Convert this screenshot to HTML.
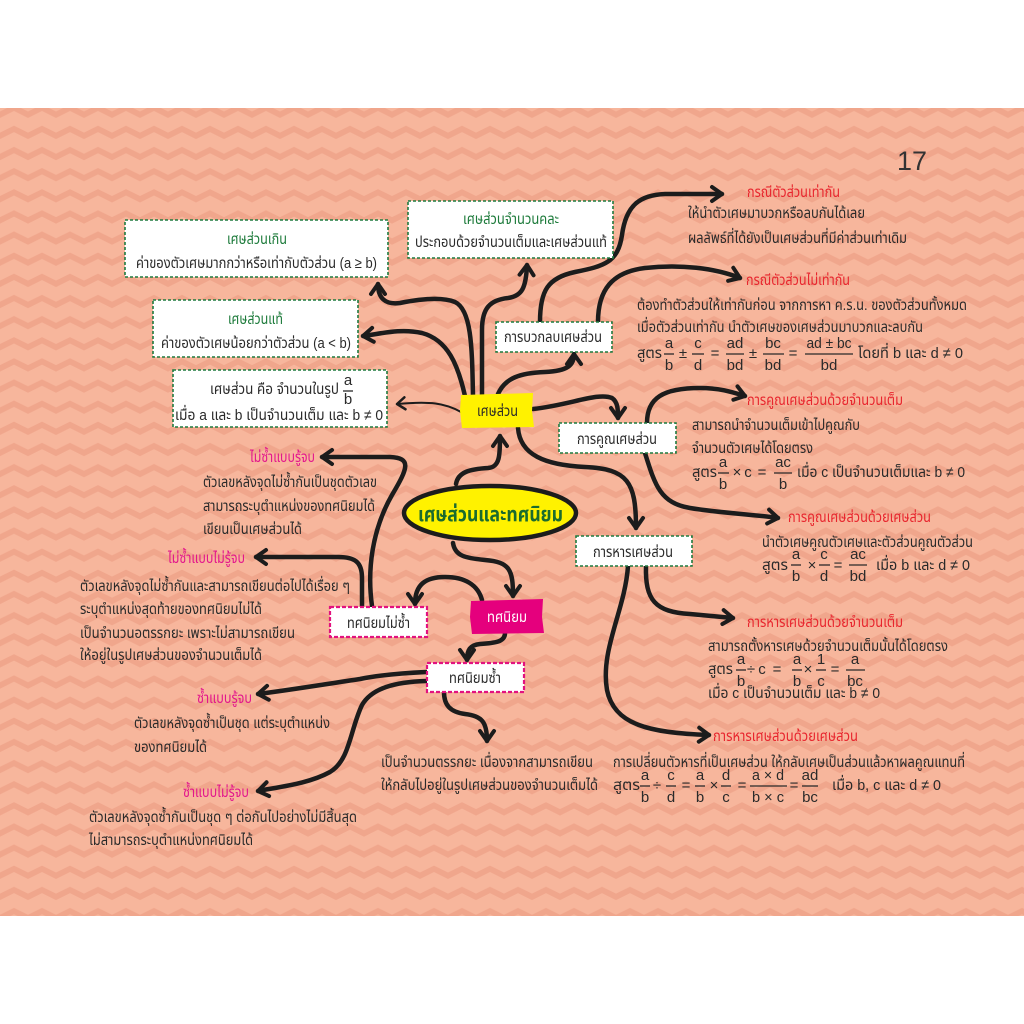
<!DOCTYPE html>
<html><head><meta charset="utf-8"><style>
html,body{margin:0;padding:0;background:#fff;}
svg{display:block;}
text{font-family:"Liberation Sans","Noto Sans Thai","Loma","Garuda","Tlwg Typo","Noto Sans CJK SC",sans-serif;font-size:15px;fill:#2a2a2a;}
.g{fill:#1d7b3b;}
.r{fill:#e8262e;}
.m{fill:#e3168c;}
.c{text-anchor:middle;}
.w{fill:#ffffff;}
.ln{fill:none;stroke:#1c1c1c;stroke-width:4.5;stroke-linecap:round;stroke-linejoin:round;}
.bar{stroke:#2a2a2a;stroke-width:1.3;}
.bx{fill:#fff;stroke:#1f7a3f;stroke-width:1.6;stroke-dasharray:3 2;}
.pk{fill:#fff;stroke:#e2127f;stroke-width:2.2;stroke-dasharray:4 2;}
</style></head><body>
<svg width="1024" height="1024" viewBox="0 0 1024 1024" xmlns="http://www.w3.org/2000/svg">
<defs>
<pattern id="zz" x="0" y="100.5" width="28" height="21.14" patternUnits="userSpaceOnUse">
<polygon points="0,11 14,4 28,11 28,17.5 14,10.5 0,17.5" fill="#f0a68c"/>
</pattern>
<marker id="ah" markerWidth="24" markerHeight="24" refX="0" refY="0" orient="auto" markerUnits="userSpaceOnUse" viewBox="-14 -12 18 24" overflow="visible">
<path d="M-10,-7 L0,0 L-10,7" fill="none" stroke="#1c1c1c" stroke-width="4" stroke-linecap="round" stroke-linejoin="round"/>
</marker>
<marker id="ahs" markerWidth="20" markerHeight="20" refX="0" refY="0" orient="auto" markerUnits="userSpaceOnUse" viewBox="-12 -10 14 20" overflow="visible">
<path d="M-8,-6 L0,0 L-8,6" fill="none" stroke="#1c1c1c" stroke-width="2.5" stroke-linecap="round" stroke-linejoin="round"/>
</marker>
</defs>

<rect x="0" y="0" width="1024" height="1024" fill="#ffffff"/>
<rect x="0" y="108" width="1024" height="808" fill="#f7b69c"/>
<rect x="0" y="108" width="1024" height="808" fill="url(#zz)"/>

<!-- page number -->
<text x="897" y="170" textLength="30" lengthAdjust="spacingAndGlyphs" style="font-size:27px;fill:#333;">17</text>

<!-- connectors -->
<path class="ln" marker-end="url(#ah)" d="M456,484 C458,472 470,469 488,468 C500,467 500,455 500,436"/>
<path class="ln" marker-end="url(#ah)" d="M453,543 C455,556 465,558 485,560 C510,562 513,570 513,596"/>
<path class="ln" marker-end="url(#ah)" d="M482,600 C478,585 465,577 445,577 C425,577 415,585 415,604"/>
<path class="ln" marker-end="url(#ah)" d="M505,633 C505,642 495,643 480,644 C470,645 467,650 467,660"/>
<path class="ln" marker-end="url(#ah)" d="M372,606 C367,570 372,530 392,495 C408,468 412,458 390,457 L322,457"/>
<path class="ln" marker-end="url(#ah)" d="M362,606 L362,578 C362,562 355,557 338,557 L256,557"/>
<path class="ln" marker-end="url(#ah)" d="M426,672 C405,673 380,675 360,679 C320,685 290,690 258,694"/>
<path class="ln" marker-end="url(#ah)" d="M426,681 C395,682 372,688 362,705 C350,730 350,760 330,772 C310,783 285,786 258,791"/>
<path class="ln" marker-end="url(#ah)" d="M444,692 C444,705 450,712 465,714 C482,716 487,722 487,741"/>
<path class="ln" style="stroke-width:2" marker-end="url(#ahs)" d="M461,412 C445,403 430,401 397,404"/>
<path class="ln" marker-end="url(#ah)" d="M465,396 C458,365 448,340 422,333 C400,328 380,334 363,336"/>
<path class="ln" marker-end="url(#ah)" d="M473,396 C472,350 472,310 455,302 C440,296 415,300 400,303 C385,305 378,298 378,284"/>
<path class="ln" marker-end="url(#ah)" d="M482,396 L482,330 C482,308 490,300 508,298 C522,296 526,288 527,265"/>
<path class="ln" marker-end="url(#ah)" d="M540,322 C540,290 548,278 575,272 C605,266 618,262 622,235 C626,205 640,195 665,194 L722,194"/>
<path class="ln" marker-end="url(#ah)" d="M598,322 C598,290 612,272 645,268 C680,264 715,268 740,278"/>
<path class="ln" marker-end="url(#ah)" d="M498,394 C505,378 520,373 545,372 C568,371 574,365 574,354"/>
<path class="ln" marker-end="url(#ah)" d="M533,409 C570,405 598,392 612,398 C618,402 618,410 618,418"/>
<path class="ln" marker-end="url(#ah)" d="M518,428 C520,455 545,465 585,467 C628,469 636,482 636,528"/>
<path class="ln" marker-end="url(#ah)" d="M647,423 C647,398 663,388 700,388 C720,388 732,392 745,396"/>
<path class="ln" marker-end="url(#ah)" d="M645,453 C655,485 660,503 690,508 C720,513 750,514 778,518"/>
<path class="ln" marker-end="url(#ah)" d="M646,566 C645,600 655,612 690,614 L733,618"/>
<path class="ln" marker-end="url(#ah)" d="M628,566 C625,610 600,650 607,690 C614,725 650,733 709,735"/>

<!-- boxes -->
<rect class="bx" x="125" y="220" width="263" height="57"/>
<rect class="bx" x="153" y="300" width="205" height="57"/>
<rect class="bx" x="173" y="370" width="214" height="57"/>
<rect class="bx" x="408" y="201" width="205" height="57"/>
<rect class="bx" x="496" y="322" width="116" height="30"/>
<rect class="bx" x="559" y="423" width="117" height="30"/>
<rect class="bx" x="576" y="536" width="116" height="30"/>
<rect class="pk" x="330" y="607" width="97" height="30"/>
<rect class="pk" x="427" y="663" width="97" height="29"/>

<!-- tags -->
<path d="M461,395 L533,393 L532,411 L534,427 L462,428 L460,411 Z" fill="#fff200"/>
<path d="M471,601 L543,599 L542,617 L544,633 L472,634 L470,617 Z" fill="#e5007d"/>

<!-- central ellipse -->
<ellipse cx="490" cy="513" rx="86" ry="27" fill="#fff200" stroke="#1c1c1c" stroke-width="4.5"/>
<text x="418" y="521" textLength="145" lengthAdjust="spacingAndGlyphs" style="font-size:20px;font-weight:bold;fill:#1b6b2e;">เศษส่วนและทศนิยม</text>

<!-- box texts -->
<text class="g" x="227" y="244" textLength="60" lengthAdjust="spacingAndGlyphs">เศษส่วนเกิน</text>
<text x="136" y="268" textLength="241" lengthAdjust="spacingAndGlyphs">ค่าของตัวเศษมากกว่าหรือเท่ากับตัวส่วน (a ≥ b)</text>
<text class="g" x="228" y="324" textLength="55" lengthAdjust="spacingAndGlyphs">เศษส่วนแท้</text>
<text x="161" y="348" textLength="190" lengthAdjust="spacingAndGlyphs">ค่าของตัวเศษน้อยกว่าตัวส่วน (a &lt; b)</text>
<text x="210" y="394" textLength="129" lengthAdjust="spacingAndGlyphs">เศษส่วน คือ จำนวนในรูป</text>
<text class="c" x="348" y="385">a</text><line class="bar" x1="343" y1="391" x2="353" y2="391"/><text class="c" x="348" y="404">b</text>
<text x="175" y="420" textLength="208" lengthAdjust="spacingAndGlyphs">เมื่อ a และ b เป็นจำนวนเต็ม และ b ≠ 0</text>
<text class="g" x="463" y="224" textLength="96" lengthAdjust="spacingAndGlyphs">เศษส่วนจำนวนคละ</text>
<text x="415" y="247" textLength="192" lengthAdjust="spacingAndGlyphs">ประกอบด้วยจำนวนเต็มและเศษส่วนแท้</text>
<text x="504" y="342" textLength="98" lengthAdjust="spacingAndGlyphs">การบวกลบเศษส่วน</text>
<text x="577" y="444" textLength="80" lengthAdjust="spacingAndGlyphs">การคูณเศษส่วน</text>
<text x="593" y="557" textLength="80" lengthAdjust="spacingAndGlyphs">การหารเศษส่วน</text>
<text x="347" y="628" textLength="63" lengthAdjust="spacingAndGlyphs">ทศนิยมไม่ซ้ำ</text>
<text x="449" y="683" textLength="52" lengthAdjust="spacingAndGlyphs">ทศนิยมซ้ำ</text>
<text x="477" y="416" textLength="41" lengthAdjust="spacingAndGlyphs">เศษส่วน</text>
<text class="w" x="487" y="622" textLength="40" lengthAdjust="spacingAndGlyphs">ทศนิยม</text>

<!-- addition -->
<text class="r" x="747" y="197" textLength="93" lengthAdjust="spacingAndGlyphs">กรณีตัวส่วนเท่ากัน</text>
<text x="688" y="218" textLength="177" lengthAdjust="spacingAndGlyphs">ให้นำตัวเศษมาบวกหรือลบกันได้เลย</text>
<text x="688" y="243" textLength="219" lengthAdjust="spacingAndGlyphs">ผลลัพธ์ที่ได้ยังเป็นเศษส่วนที่มีค่าส่วนเท่าเดิม</text>
<text class="r" x="746" y="285" textLength="104" lengthAdjust="spacingAndGlyphs">กรณีตัวส่วนไม่เท่ากัน</text>
<text x="637" y="310" textLength="330" lengthAdjust="spacingAndGlyphs">ต้องทำตัวส่วนให้เท่ากันก่อน จากการหา ค.ร.น. ของตัวส่วนทั้งหมด</text>
<text x="637" y="332" textLength="286" lengthAdjust="spacingAndGlyphs">เมื่อตัวส่วนเท่ากัน นำตัวเศษของเศษส่วนมาบวกและลบกัน</text>
<text x="637" y="358" textLength="25" lengthAdjust="spacingAndGlyphs">สูตร</text>
<text class="c" x="669" y="348">a</text><line class="bar" x1="664" y1="354" x2="674" y2="354"/><text class="c" x="669" y="370">b</text>
<text class="c" x="683" y="358">±</text>
<text class="c" x="698" y="348">c</text><line class="bar" x1="692" y1="354" x2="704" y2="354"/><text class="c" x="698" y="370">d</text>
<text class="c" x="715" y="358">=</text>
<text class="c" x="735" y="348">ad</text><line class="bar" x1="726" y1="354" x2="744" y2="354"/><text class="c" x="735" y="370">bd</text>
<text class="c" x="753" y="358">±</text>
<text class="c" x="773" y="348">bc</text><line class="bar" x1="763" y1="354" x2="784" y2="354"/><text class="c" x="773" y="370">bd</text>
<text class="c" x="793" y="358">=</text>
<text class="c" x="829" y="348" textLength="45" lengthAdjust="spacingAndGlyphs">ad ± bc</text><line class="bar" x1="805" y1="354" x2="853" y2="354"/><text class="c" x="829" y="370">bd</text>
<text x="858" y="358" textLength="105" lengthAdjust="spacingAndGlyphs">โดยที่ b และ d ≠ 0</text>

<!-- multiplication -->
<text class="r" x="747" y="405" textLength="156" lengthAdjust="spacingAndGlyphs">การคูณเศษส่วนด้วยจำนวนเต็ม</text>
<text x="692" y="430" textLength="168" lengthAdjust="spacingAndGlyphs">สามารถนำจำนวนเต็มเข้าไปคูณกับ</text>
<text x="692" y="453" textLength="121" lengthAdjust="spacingAndGlyphs">จำนวนตัวเศษได้โดยตรง</text>
<text x="692" y="477" textLength="25" lengthAdjust="spacingAndGlyphs">สูตร</text>
<text class="c" x="723" y="467">a</text><line class="bar" x1="718" y1="473" x2="729" y2="473"/><text class="c" x="723" y="489">b</text>
<text class="c" x="737" y="477">×</text>
<text class="c" x="748" y="477">c</text>
<text class="c" x="762" y="477">=</text>
<text class="c" x="783" y="467">ac</text><line class="bar" x1="774" y1="473" x2="792" y2="473"/><text class="c" x="783" y="489">b</text>
<text x="797" y="477" textLength="168" lengthAdjust="spacingAndGlyphs">เมื่อ c เป็นจำนวนเต็มและ b ≠ 0</text>
<text class="r" x="788" y="522" textLength="143" lengthAdjust="spacingAndGlyphs">การคูณเศษส่วนด้วยเศษส่วน</text>
<text x="762" y="547" textLength="211" lengthAdjust="spacingAndGlyphs">นำตัวเศษคูณตัวเศษและตัวส่วนคูณตัวส่วน</text>
<text x="762" y="570" textLength="26" lengthAdjust="spacingAndGlyphs">สูตร</text>
<text class="c" x="796" y="559">a</text><line class="bar" x1="791" y1="565" x2="801" y2="565"/><text class="c" x="796" y="581">b</text>
<text class="c" x="812" y="570">×</text>
<text class="c" x="824" y="559">c</text><line class="bar" x1="819" y1="565" x2="830" y2="565"/><text class="c" x="824" y="581">d</text>
<text class="c" x="838" y="570">=</text>
<text class="c" x="858" y="559">ac</text><line class="bar" x1="849" y1="565" x2="867" y2="565"/><text class="c" x="858" y="581">bd</text>
<text x="876" y="570" textLength="94" lengthAdjust="spacingAndGlyphs">เมื่อ b และ d ≠ 0</text>

<!-- division -->
<text class="r" x="747" y="627" textLength="156" lengthAdjust="spacingAndGlyphs">การหารเศษส่วนด้วยจำนวนเต็ม</text>
<text x="708" y="651" textLength="240" lengthAdjust="spacingAndGlyphs">สามารถตั้งหารเศษด้วยจำนวนเต็มนั้นได้โดยตรง</text>
<text x="708" y="674" textLength="25" lengthAdjust="spacingAndGlyphs">สูตร</text>
<text class="c" x="741" y="664">a</text><line class="bar" x1="736" y1="670" x2="746" y2="670"/><text class="c" x="741" y="686">b</text>
<text class="c" x="751" y="674">÷</text>
<text class="c" x="762" y="674">c</text>
<text class="c" x="777" y="674">=</text>
<text class="c" x="797" y="664">a</text><line class="bar" x1="792" y1="670" x2="802" y2="670"/><text class="c" x="797" y="686">b</text>
<text class="c" x="808" y="674">×</text>
<text class="c" x="821" y="664">1</text><line class="bar" x1="816" y1="670" x2="826" y2="670"/><text class="c" x="821" y="686">c</text>
<text class="c" x="835" y="674">=</text>
<text class="c" x="855" y="664">a</text><line class="bar" x1="846" y1="670" x2="865" y2="670"/><text class="c" x="855" y="686">bc</text>
<text x="708" y="698" textLength="172" lengthAdjust="spacingAndGlyphs">เมื่อ c เป็นจำนวนเต็ม และ b ≠ 0</text>
<text class="r" x="713" y="741" textLength="145" lengthAdjust="spacingAndGlyphs">การหารเศษส่วนด้วยเศษส่วน</text>
<text x="613" y="767" textLength="352" lengthAdjust="spacingAndGlyphs">การเปลี่ยนตัวหารที่เป็นเศษส่วน ให้กลับเศษเป็นส่วนแล้วหาผลคูณแทนที่</text>
<text x="613" y="790" textLength="27" lengthAdjust="spacingAndGlyphs">สูตร</text>
<text class="c" x="645" y="780">a</text><line class="bar" x1="640" y1="786" x2="650" y2="786"/><text class="c" x="645" y="802">b</text>
<text class="c" x="657" y="790">÷</text>
<text class="c" x="671" y="780">c</text><line class="bar" x1="666" y1="786" x2="676" y2="786"/><text class="c" x="671" y="802">d</text>
<text class="c" x="686" y="790">=</text>
<text class="c" x="700" y="780">a</text><line class="bar" x1="695" y1="786" x2="705" y2="786"/><text class="c" x="700" y="802">b</text>
<text class="c" x="714" y="790">×</text>
<text class="c" x="726" y="780">d</text><line class="bar" x1="721" y1="786" x2="731" y2="786"/><text class="c" x="726" y="802">c</text>
<text class="c" x="742" y="790">=</text>
<text class="c" x="768" y="780" textLength="32" lengthAdjust="spacingAndGlyphs">a × d</text><line class="bar" x1="750" y1="786" x2="787" y2="786"/><text class="c" x="768" y="802" textLength="32" lengthAdjust="spacingAndGlyphs">b × c</text>
<text class="c" x="794" y="790">=</text>
<text class="c" x="810" y="780">ad</text><line class="bar" x1="802" y1="786" x2="818" y2="786"/><text class="c" x="810" y="802">bc</text>
<text x="832" y="790" textLength="109" lengthAdjust="spacingAndGlyphs">เมื่อ b, c และ d ≠ 0</text>

<!-- decimals -->
<text class="m" x="250" y="462" textLength="65" lengthAdjust="spacingAndGlyphs">ไม่ซ้ำแบบรู้จบ</text>
<text x="203" y="487" textLength="174" lengthAdjust="spacingAndGlyphs">ตัวเลขหลังจุดไม่ซ้ำกันเป็นชุดตัวเลข</text>
<text x="203" y="511" textLength="172" lengthAdjust="spacingAndGlyphs">สามารถระบุตำแหน่งของทศนิยมได้</text>
<text x="203" y="534" textLength="99" lengthAdjust="spacingAndGlyphs">เขียนเป็นเศษส่วนได้</text>
<text class="m" x="168" y="563" textLength="77" lengthAdjust="spacingAndGlyphs">ไม่ซ้ำแบบไม่รู้จบ</text>
<text x="80" y="591" textLength="270" lengthAdjust="spacingAndGlyphs">ตัวเลขหลังจุดไม่ซ้ำกันและสามารถเขียนต่อไปได้เรื่อย ๆ</text>
<text x="80" y="614" textLength="182" lengthAdjust="spacingAndGlyphs">ระบุตำแหน่งสุดท้ายของทศนิยมไม่ได้</text>
<text x="80" y="638" textLength="215" lengthAdjust="spacingAndGlyphs">เป็นจำนวนอตรรกยะ เพราะไม่สามารถเขียน</text>
<text x="80" y="660" textLength="182" lengthAdjust="spacingAndGlyphs">ให้อยู่ในรูปเศษส่วนของจำนวนเต็มได้</text>
<text class="m" x="197" y="703" textLength="55" lengthAdjust="spacingAndGlyphs">ซ้ำแบบรู้จบ</text>
<text x="134" y="728" textLength="196" lengthAdjust="spacingAndGlyphs">ตัวเลขหลังจุดซ้ำเป็นชุด แต่ระบุตำแหน่ง</text>
<text x="134" y="752" textLength="73" lengthAdjust="spacingAndGlyphs">ของทศนิยมได้</text>
<text class="m" x="183" y="797" textLength="66" lengthAdjust="spacingAndGlyphs">ซ้ำแบบไม่รู้จบ</text>
<text x="89" y="822" textLength="268" lengthAdjust="spacingAndGlyphs">ตัวเลขหลังจุดซ้ำกันเป็นชุด ๆ ต่อกันไปอย่างไม่มีสิ้นสุด</text>
<text x="89" y="845" textLength="164" lengthAdjust="spacingAndGlyphs">ไม่สามารถระบุตำแหน่งทศนิยมได้</text>
<text x="381" y="767" textLength="212" lengthAdjust="spacingAndGlyphs">เป็นจำนวนตรรกยะ เนื่องจากสามารถเขียน</text>
<text x="381" y="790" textLength="217" lengthAdjust="spacingAndGlyphs">ให้กลับไปอยู่ในรูปเศษส่วนของจำนวนเต็มได้</text>
</svg>
</body></html>
